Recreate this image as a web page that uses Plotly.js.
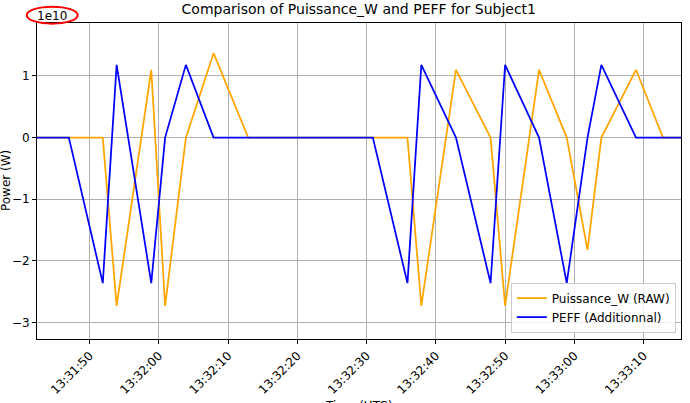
<!DOCTYPE html>
<html>
<head>
<meta charset="utf-8">
<script src="https://cdn.plot.ly/plotly-3.0.1.min.js"></script>
<style>html,body{margin:0;padding:0;background:#fff;}#chart{width:690px;height:403px;}</style>
</head>
<body>
<div id="chart"></div>
<script>
// Shared timestamps (UTC)
const times = [
  "2025-01-01 13:31:42.4", "2025-01-01 13:31:47.0", "2025-01-01 13:31:51.9",
  "2025-01-01 13:31:53.9", "2025-01-01 13:31:58.9", "2025-01-01 13:32:00.9",
  "2025-01-01 13:32:03.9", "2025-01-01 13:32:07.9", "2025-01-01 13:32:12.9",
  "2025-01-01 13:32:30.9", "2025-01-01 13:32:35.9", "2025-01-01 13:32:37.9",
  "2025-01-01 13:32:42.9", "2025-01-01 13:32:47.9", "2025-01-01 13:32:50.0",
  "2025-01-01 13:32:54.9", "2025-01-01 13:32:58.9", "2025-01-01 13:33:01.9",
  "2025-01-01 13:33:03.9", "2025-01-01 13:33:08.9", "2025-01-01 13:33:12.8",
  "2025-01-01 13:33:15.4"
];
// Values in units of 1e10 W
const puissanceW = [0, 0, 0, -2.73, 1.10, -2.73, 0, 1.37, 0, 0, 0, -2.73, 1.10, 0, -2.73, 1.10, 0, -1.82, 0, 1.10, 0, 0];
const peff =       [0, 0, -2.36, 1.18, -2.36, 0, 1.18, 0, 0, 0, -2.36, 1.18, 0, -2.36, 1.18, 0, -2.36, 0, 1.18, 0, 0, 0];
const yTicks = [-3, -2, -1, 0, 1];
const xTicks = ["2025-01-01 13:31:50", "2025-01-01 13:32:00", "2025-01-01 13:32:10", "2025-01-01 13:32:20",
                "2025-01-01 13:32:30", "2025-01-01 13:32:40", "2025-01-01 13:32:50", "2025-01-01 13:33:00", "2025-01-01 13:33:10"];

const font = "DejaVu Sans, sans-serif";
const traces = [
  {x: times, y: puissanceW, type: "scatter", mode: "lines", name: "Puissance_W (RAW)",
   line: {color: "#FFA500", width: 1.75}},
  {x: times, y: peff, type: "scatter", mode: "lines", name: "PEFF (Additionnal)",
   line: {color: "#0000FF", width: 1.75}}
];
const layout = {
  width: 690, height: 403,
  margin: {l: 37, r: 9, t: 23, b: 64},
  paper_bgcolor: "#fff", plot_bgcolor: "#fff",
  font: {family: font, size: 12, color: "#000"},
  title: {text: "Comparison of Puissance_W and PEFF for Subject1", font: {family: font, size: 14, color: "#000"},
          x: 0.52, xanchor: "center", y: 0.99, yanchor: "top"},
  xaxis: {
    type: "date", range: [times[0], times[times.length - 1]],
    tickvals: xTicks, tickformat: "%H:%M:%S", tickangle: -45,
    ticks: "outside", ticklen: 4, tickcolor: "#000",
    showgrid: true, gridcolor: "#b0b0b0", gridwidth: 1,
    showline: true, linecolor: "#000", linewidth: 1, mirror: true,
    zeroline: false, tickfont: {size: 12}
  },
  yaxis: {
    range: [-3.266, 1.859], tickvals: yTicks,
    ticks: "outside", ticklen: 4, tickcolor: "#000",
    showgrid: true, gridcolor: "#b0b0b0", gridwidth: 1,
    showline: true, linecolor: "#000", linewidth: 1, mirror: true,
    zeroline: false, tickfont: {size: 12}
  },
  legend: {
    x: 0.992, xanchor: "right", y: 0.02, yanchor: "bottom",
    bgcolor: "rgba(255,255,255,0.8)", bordercolor: "#cccccc", borderwidth: 1,
    font: {size: 12}, itemwidth: 30, tracegroupgap: 0
  },
  annotations: [
    {text: "1e10", xref: "paper", yref: "paper", x: 0.0236, y: 0.995, xanchor: "center", yanchor: "bottom",
     showarrow: false, font: {size: 12}},
    {text: "Power (W)", xref: "paper", yref: "paper", x: -0.048, y: 0.5, xanchor: "center", yanchor: "middle",
     textangle: -90, showarrow: false, font: {size: 12}},
    {text: "Time (UTC)", xref: "paper", yref: "paper", x: 0.4988, y: -0.185, xanchor: "center", yanchor: "top",
     showarrow: false, font: {size: 12}}
  ],
  shapes: [
    {type: "circle", xref: "paper", yref: "paper", x0: -0.016, x1: 0.0632, y0: 0.998, y1: 1.0516,
     line: {color: "#FF0000", width: 2}}
  ],
  showlegend: true
};
Plotly.newPlot("chart", traces, layout, {displayModeBar: false, staticPlot: true});
</script>
</body>
</html>
